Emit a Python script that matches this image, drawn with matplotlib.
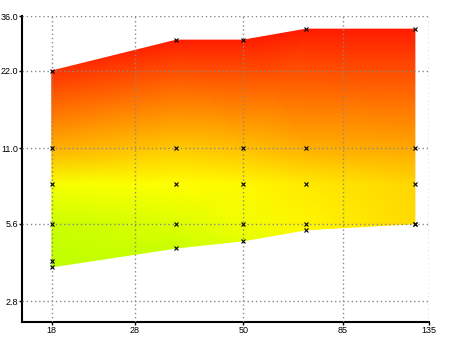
import numpy as np
import matplotlib
matplotlib.use('Agg')
import matplotlib.pyplot as plt
from matplotlib.colors import LinearSegmentedColormap
from matplotlib.ticker import FixedLocator, FixedFormatter, NullLocator

# focal lengths (x) and the aperture band at each one (y)
focal = [18, 35, 50, 70, 125]
top = [22, 29, 29, 32, 32]
bottom = [3.8, 4.5, 4.8, 5.3, 5.6]
levels = [5.6, 8, 11]
extra_x = [18]
extra_y = [4.0]

# colour value (0 = lime, 1 = red)
z_bottom = [0.00, 0.05, 0.15, 0.27, 0.37]
z_56 = [0.05, 0.12, 0.20, 0.28, 0.37]
z_8 = [0.22, 0.25, 0.27, 0.32, 0.38]
z_11 = [0.50, 0.42, 0.45, 0.50, 0.53]
z_top = [0.91, 0.97, 0.97, 0.98, 0.98]

xticks = [18, 28, 50, 85, 135]
xlabels = ['18', '28', '50', '85', '135']
yticks = [2.8, 5.6, 11.0, 22.0, 36.0]
ylabels = ['2.8', '5.6', '11.0', '22.0', '36.0']

plt.rcParams['font.family'] = ['Liberation Sans', 'DejaVu Sans']

cmap = LinearSegmentedColormap('band', {
    'red': [(0, 0.75, 0.75), (0.25, 1, 1), (1, 1, 1)],
    'green': [(0, 1, 1), (0.25, 1, 1), (1, 0.08, 0.08)],
    'blue': [(0, 0, 0), (1, 0, 0)],
})

fig = plt.figure(figsize=(4.5, 3.37), dpi=100)
ax = fig.add_axes([22 / 450, 15 / 337, 407.3 / 450, 306 / 337])
ax.set_xscale('log')
ax.set_yscale('log')

X = np.array([focal] * 5, dtype=float)
Y = np.array([bottom, [levels[0]] * 5, [levels[1]] * 5, [levels[2]] * 5, top], dtype=float)
Z = np.array([z_bottom, z_56, z_8, z_11, z_top])
ax.pcolormesh(X, Y, Z, shading='gouraud', cmap=cmap, vmin=0, vmax=1, zorder=1)

# markers
px, py = [], []
for i, f in enumerate(focal):
    for v in [bottom[i]] + levels + [top[i]]:
        px.append(f)
        py.append(v)
px += extra_x
py += extra_y
ax.plot(px, py, 'x', color='black', markersize=3, mew=0.8, zorder=4, clip_on=False)

ax.set_xlim(15.36, 135)
ax.set_ylim(2.32, 36)

ax.xaxis.set_major_locator(FixedLocator(xticks))
ax.xaxis.set_major_formatter(FixedFormatter(xlabels))
ax.xaxis.set_minor_locator(NullLocator())
ax.yaxis.set_major_locator(FixedLocator(yticks))
ax.yaxis.set_major_formatter(FixedFormatter(ylabels))
ax.yaxis.set_minor_locator(NullLocator())

ax.set_axisbelow(False)
ax.grid(True, color='#888888', linestyle=(0, (1, 2)), linewidth=1)
ax.tick_params(length=2, width=1, pad=1, labelsize=6.5, colors='black')
for s in ['top', 'right']:
    ax.spines[s].set_visible(False)
for s in ['left', 'bottom']:
    ax.spines[s].set_linewidth(1.5)

fig.savefig('out.png', dpi=100)
